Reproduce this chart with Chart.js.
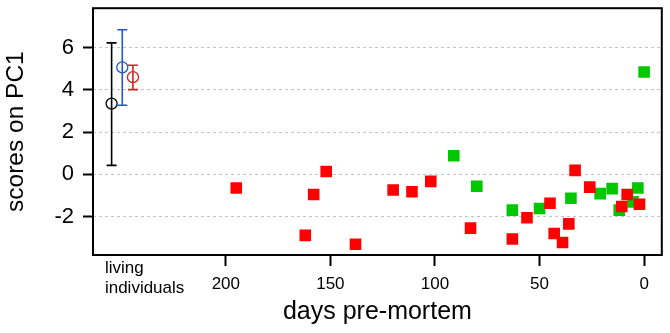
<!DOCTYPE html>
<html>
<head>
<meta charset="utf-8">
<script src="https://cdn.jsdelivr.net/npm/chart.js@4"></script>
<style>
  html, body { margin: 0; padding: 0; background: #fff; }
  #wrap { width: 670px; height: 333px; }
</style>
</head>
<body>
<div id="wrap"><canvas id="pcChart"></canvas></div>
<script>
// days pre-mortem (x) and PC1 scores (y)
const redDays   = [195, 162, 158, 152, 138, 120, 111, 102, 83, 63, 56, 45, 43, 39, 36, 33, 26, 10.7, 8.1, 2.2];
const redScores = [-0.64, -2.88, -0.95, 0.14, -3.30, -0.74, -0.82, -0.33, -2.54, -3.05, -2.05, -1.36, -2.79, -3.22, -2.34, 0.19, -0.60, -1.52, -0.95, -1.41];

const greenDays   = [91, 80, 63, 50, 35, 21, 15.3, 11.9, 5.3, 3, 0];
const greenScores = [0.88, -0.56, -1.69, -1.61, -1.13, -0.91, -0.67, -1.69, -1.30, -0.64, 4.84];

// living individuals: mean with range
const livingDays   = [254.6, 249.5, 244.4];
const livingMean   = [3.35, 5.06, 4.60];
const livingLow    = [0.43, 3.27, 4.01];
const livingHigh   = [6.22, 6.84, 5.16];
const livingColors = ["#000000", "#2456c8", "#d42222"];
const livingLabelAt = 257.8;

const xTicks = [0, 50, 100, 150, 200];
const yTicks = [-2, 0, 2, 4, 6];

const fontFamily = '"Liberation Sans", Arial, Helvetica, sans-serif';

// error bars, plot frame and the "living individuals" label
const extrasPlugin = {
  id: "extras",
  afterDatasetsDraw(chart) {
    const { ctx, chartArea: a, scales: { x, y } } = chart;
    ctx.save();
    livingDays.forEach((d, i) => {
      const px = x.getPixelForValue(d);
      const top = y.getPixelForValue(livingHigh[i]);
      const bot = y.getPixelForValue(livingLow[i]);
      ctx.strokeStyle = livingColors[i];
      ctx.lineWidth = 1.6;
      ctx.beginPath();
      ctx.moveTo(px, top); ctx.lineTo(px, bot);
      ctx.moveTo(px - 5, top); ctx.lineTo(px + 5, top);
      ctx.moveTo(px - 5, bot); ctx.lineTo(px + 5, bot);
      ctx.stroke();
    });

    ctx.strokeStyle = "#000";
    ctx.lineWidth = 2;
    ctx.strokeRect(a.left, a.top, a.right - a.left, a.bottom - a.top);

    ctx.fillStyle = "#000";
    ctx.font = "17px " + fontFamily;
    ctx.textAlign = "left";
    ctx.textBaseline = "middle";
    const lx = x.getPixelForValue(livingLabelAt);
    ctx.fillText("living", lx, a.bottom + 13);
    ctx.fillText("individuals", lx, a.bottom + 33);
    ctx.restore();
  }
};

const ctx = document.getElementById("pcChart").getContext("2d");
new Chart(ctx, {
  type: "scatter",
  data: {
    datasets: [
      {
        label: "red",
        data: redDays.map((d, i) => ({ x: d, y: redScores[i] })),
        pointStyle: "rect",
        pointRadius: 8.2,
        pointBackgroundColor: "#ff0000",
        pointBorderWidth: 0
      },
      {
        label: "green",
        data: greenDays.map((d, i) => ({ x: d, y: greenScores[i] })),
        pointStyle: "rect",
        pointRadius: 8.2,
        pointBackgroundColor: "#00c800",
        pointBorderWidth: 0
      },
      {
        label: "living",
        data: livingDays.map((d, i) => ({ x: d, y: livingMean[i] })),
        pointStyle: "circle",
        pointRadius: 5.5,
        pointBackgroundColor: "rgba(0,0,0,0)",
        pointBorderColor: livingColors,
        pointBorderWidth: 1.3
      }
    ]
  },
  options: {
    responsive: true,
    maintainAspectRatio: false,
    animation: false,
    events: [],
    layout: { padding: { top: 1, right: 7, left: 0, bottom: 0 } },
    plugins: {
      legend: { display: false },
      tooltip: { enabled: false }
    },
    scales: {
      x: {
        type: "linear",
        reverse: true,
        min: -8.45,
        max: 263.5,
        afterBuildTicks: (scale) => { scale.ticks = xTicks.map(v => ({ value: v })); },
        afterFit: (scale) => {
          scale.height = 78;
          scale.paddingLeft = 0;
          scale.paddingRight = 0;
        },
        border: { display: false },
        grid: {
          drawOnChartArea: false,
          drawTicks: true,
          tickLength: 11,
          tickColor: "#000",
          tickWidth: 2
        },
        ticks: {
          color: "#000",
          padding: 8,
          maxRotation: 0,
          font: { family: fontFamily, size: 17 }
        },
        title: {
          display: true,
          text: "days pre-mortem",
          color: "#000",
          padding: { top: 0, bottom: 6 },
          font: { family: fontFamily, size: 25 }
        }
      },
      y: {
        type: "linear",
        min: -3.81,
        max: 7.86,
        afterBuildTicks: (scale) => { scale.ticks = yTicks.map(v => ({ value: v })); },
        afterFit: (scale) => {
          scale.width = 93;
          scale.paddingTop = 0;
          scale.paddingBottom = 0;
        },
        border: { display: false, dash: [3, 3] },
        grid: {
          color: "#c4c4c4",
          lineWidth: 1,
          drawTicks: true,
          tickLength: 10,
          tickColor: "#000",
          tickWidth: 2,
          tickBorderDash: []
        },
        ticks: {
          color: "#000",
          padding: 9,
          font: { family: fontFamily, size: 22 }
        },
        title: {
          display: true,
          text: "scores on PC1",
          color: "#000",
          padding: { top: 2, bottom: 0 },
          font: { family: fontFamily, size: 24.5 }
        }
      }
    }
  },
  plugins: [extrasPlugin]
});
</script>
</body>
</html>
